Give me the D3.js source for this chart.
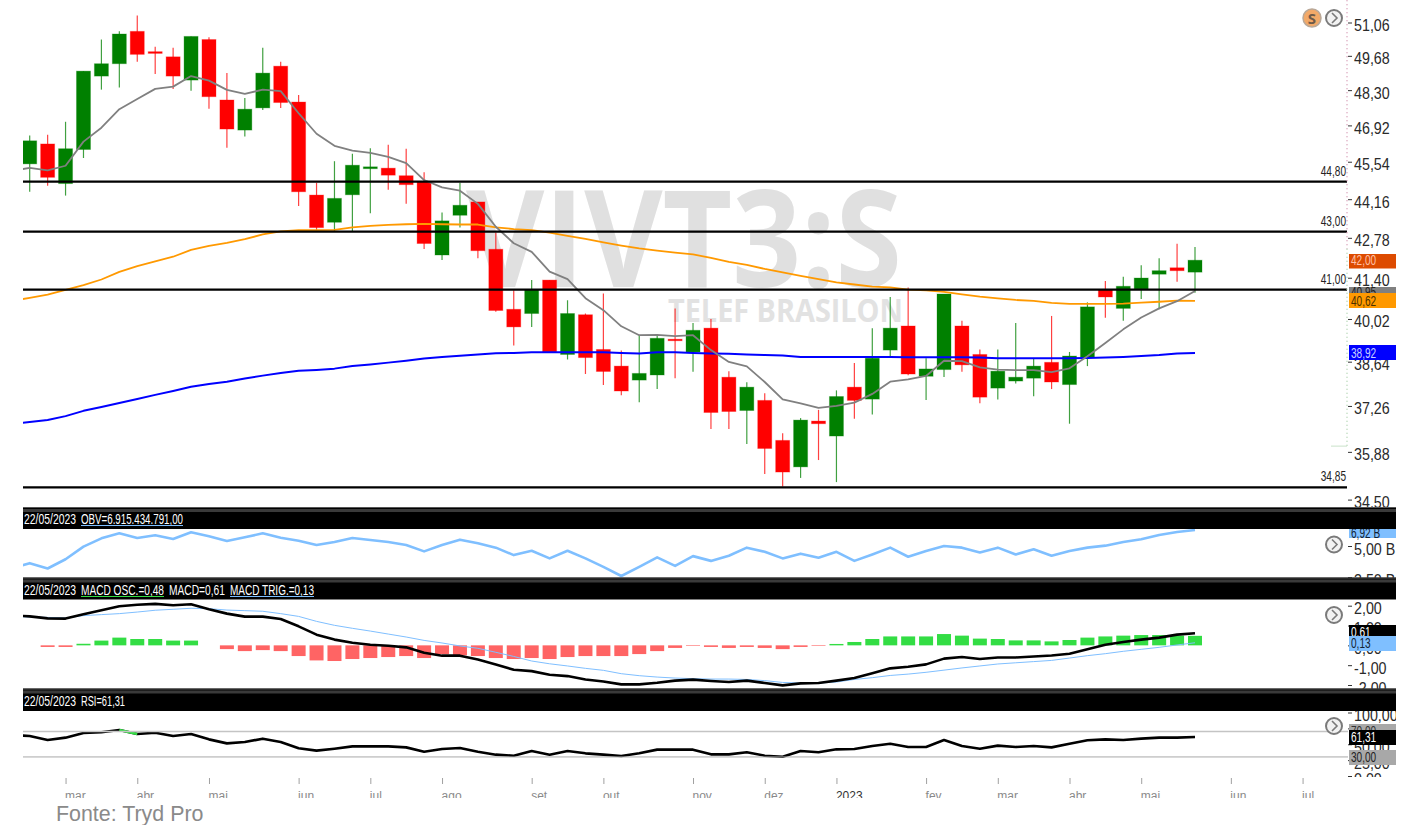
<!DOCTYPE html>
<html>
<head>
<meta charset="utf-8">
<title>VIVT3:S</title>
<script src="https://cdn.jsdelivr.net/npm/d3@7"></script>
<style>
  html, body { margin: 0; padding: 0; background: #fff; overflow: hidden; }
  .tick line { stroke: #333; }
  .price-axis text { font-family: "Liberation Sans", sans-serif; fill: #2a2a2a; }
</style>
</head>
<body>
<div id="chart"></div>
<script>
// weekly candles, one per week, left to right
const open  = [45.46,46.21,44.73,46.00,48.86,49.36,50.69,49.85,49.64,48.70,50.35,47.91,46.74,47.60,49.26,47.83,44.31,43.33,44.32,45.28,45.30,45.02,44.80,42.18,43.58,44.06,42.38,40.34,40.20,41.32,38.87,40.16,39.03,38.50,38.06,38.22,39.36,38.95,39.72,38.15,37.12,37.43,36.22,35.44,36.80,36.35,37.84,37.47,39.01,39.79,38.18,38.39,39.79,38.87,37.81,38.03,38.12,38.62,37.92,38.78,40.99,40.37,41.02,41.52,41.74,41.59];
const high  = [46.53,46.56,47.06,49.06,50.35,50.69,51.35,50.05,50.01,50.48,50.45,48.98,47.99,50.01,49.44,48.11,44.76,45.56,45.84,46.05,46.18,46.03,45.15,43.68,44.76,44.06,42.97,40.98,41.32,41.32,40.64,40.20,40.87,39.00,39.49,39.49,40.37,39.89,40.02,38.34,37.99,37.65,36.43,36.89,37.14,37.74,38.60,39.72,40.75,41.07,38.75,40.85,39.96,39.03,39.03,39.89,38.75,40.12,38.95,40.57,41.29,41.43,41.83,42.07,42.57,42.46];
const low   = [44.43,44.65,44.29,45.68,48.32,48.40,49.44,48.94,48.34,48.28,47.57,46.07,46.49,47.52,47.60,43.91,43.05,43.02,43.02,43.65,44.50,43.99,42.39,42.01,43.14,42.07,40.26,39.16,39.76,38.94,38.71,38.25,37.91,37.59,37.37,37.78,38.12,38.32,36.56,36.56,36.11,35.23,34.87,35.12,35.64,35.00,36.87,37.00,38.77,38.21,37.44,38.16,38.32,37.34,37.46,37.95,37.56,37.78,36.72,38.50,40.06,39.96,40.68,40.34,41.26,40.89];
const close = [46.33,44.96,46.03,49.06,49.36,50.58,49.74,49.78,48.86,50.48,48.04,46.78,47.55,48.98,47.81,44.43,43.14,44.19,45.41,45.35,45.04,44.69,42.58,43.38,43.94,42.33,40.30,39.76,40.99,38.95,40.20,38.77,38.33,37.72,38.27,39.39,39.33,39.65,37.06,37.09,37.84,35.98,35.29,36.83,36.72,37.55,37.43,38.75,39.72,38.25,38.41,40.85,38.54,37.53,38.34,38.15,38.50,38.00,38.82,40.42,40.75,41.11,41.39,41.64,41.64,42.00];

// moving averages, first value belongs to the week cut off on the left (index -1)
const maGray   = [45.20,45.31,45.22,45.39,46.30,46.83,47.55,47.95,48.35,48.44,48.86,48.68,48.31,48.15,48.32,48.26,47.39,46.60,46.14,45.96,45.87,45.72,45.49,44.86,44.59,44.47,43.99,43.17,42.59,42.29,41.61,41.35,40.71,40.31,39.78,39.49,39.50,39.46,39.49,39.01,38.63,38.49,38.00,37.46,37.34,37.20,37.26,37.36,37.63,38.01,38.08,38.19,38.67,38.66,38.46,38.39,38.37,38.37,38.31,38.43,38.81,39.24,39.68,40.07,40.37,40.61,40.95];
const maOrange = [40.62,40.72,40.83,40.99,41.15,41.34,41.60,41.80,41.96,42.12,42.36,42.50,42.60,42.73,42.90,43.01,43.05,43.05,43.06,43.15,43.20,43.24,43.26,43.27,43.26,43.25,43.25,43.15,43.09,43.05,42.96,42.85,42.74,42.62,42.51,42.41,42.33,42.26,42.20,42.08,41.94,41.84,41.70,41.58,41.46,41.35,41.24,41.17,41.10,41.07,41.00,40.97,40.92,40.84,40.76,40.70,40.65,40.62,40.55,40.52,40.52,40.52,40.53,40.56,40.59,40.63,40.62];
const maBlue   = [36.71,36.77,36.83,36.95,37.11,37.23,37.35,37.47,37.60,37.72,37.85,37.94,38.01,38.11,38.20,38.28,38.35,38.38,38.42,38.50,38.55,38.61,38.67,38.74,38.79,38.83,38.87,38.91,38.92,38.94,38.94,38.94,38.94,38.94,38.92,38.90,38.94,38.94,38.92,38.90,38.89,38.87,38.85,38.84,38.79,38.79,38.79,38.79,38.79,38.79,38.78,38.78,38.78,38.78,38.77,38.75,38.75,38.75,38.75,38.75,38.76,38.77,38.79,38.82,38.85,38.90,38.92];

// indicator panels, same index -1 start
const obv      = [3.91,4.17,3.91,4.36,4.97,5.92,6.52,5.96,6.28,5.84,6.64,6.16,5.60,6.04,6.52,6.00,5.64,5.12,5.48,5.96,5.72,5.48,5.12,4.74,5.12,5.76,5.32,4.92,4.56,4.77,4.40,4.77,4.40,3.99,3.55,3.99,4.45,4.04,4.51,4.28,4.53,4.92,4.72,4.40,4.63,4.43,4.72,4.28,4.59,4.92,4.48,4.76,5.00,4.92,4.69,4.92,4.59,4.84,4.53,4.76,4.92,5.04,5.48,5.80,6.32,6.68,6.92];
const macd     = [1.52,1.46,1.36,1.35,1.57,1.77,1.97,2.05,2.09,2.02,2.07,1.82,1.60,1.45,1.45,1.33,0.96,0.54,0.29,0.13,0.03,-0.02,-0.10,-0.37,-0.52,-0.52,-0.71,-0.96,-1.23,-1.30,-1.48,-1.55,-1.72,-1.82,-1.97,-1.97,-1.89,-1.78,-1.73,-1.80,-1.85,-1.78,-1.90,-2.02,-1.92,-1.90,-1.78,-1.65,-1.41,-1.16,-1.08,-0.96,-0.67,-0.59,-0.69,-0.61,-0.61,-0.56,-0.51,-0.42,-0.20,0.03,0.17,0.29,0.39,0.54,0.61];
const macdTrig = [1.46,1.43,1.41,1.38,1.50,1.55,1.60,1.68,1.77,1.82,1.87,1.85,1.78,1.75,1.72,1.60,1.46,1.21,1.01,0.86,0.72,0.57,0.42,0.25,0.12,-0.03,-0.15,-0.35,-0.56,-0.79,-0.93,-1.04,-1.16,-1.26,-1.43,-1.53,-1.60,-1.65,-1.68,-1.70,-1.70,-1.72,-1.78,-1.87,-1.90,-1.90,-1.85,-1.72,-1.63,-1.52,-1.45,-1.36,-1.25,-1.14,-1.04,-0.94,-0.88,-0.82,-0.76,-0.64,-0.52,-0.42,-0.30,-0.20,-0.10,0.02,0.13];
const macdOsc  = [0,-0.08,-0.08,0.08,0.24,0.39,0.32,0.32,0.24,0.24,0,-0.19,-0.29,-0.24,-0.29,-0.54,-0.76,-0.79,-0.69,-0.64,-0.59,-0.54,-0.64,-0.44,-0.50,-0.54,-0.64,-0.69,-0.64,-0.69,-0.59,-0.54,-0.54,-0.54,-0.44,-0.29,-0.13,-0.03,-0.08,-0.13,-0.08,-0.13,-0.19,-0.08,-0.03,0.07,0.17,0.32,0.45,0.45,0.45,0.57,0.49,0.34,0.32,0.25,0.25,0.20,0.27,0.39,0.45,0.49,0.52,0.52,0.49,0.48];
const rsi      = [64.6,63.0,56.7,60.4,67.7,68.8,72.4,66.1,68.2,63.0,66.1,57.7,51.4,53.5,58.8,53.5,43.6,39.9,43.0,46.7,46.7,46.7,45.1,38.3,42.5,44.1,38.3,33.6,32.0,39.4,33.6,39.4,35.7,33.6,31.5,35.7,41.5,41.5,41.5,34.1,34.1,37.3,32.0,30.4,39.4,37.3,42.0,42.5,47.2,50.9,45.7,45.7,56.7,47.2,43.0,47.8,45.7,47.2,45.1,50.9,56.2,57.7,56.7,58.8,60.4,60.4,61.31];

// axis labels
const priceTicks = [51.06,49.68,48.30,46.92,45.54,44.16,42.78,41.40,40.02,38.64,37.26,35.88,34.50];
const obvTicks = [5.00,3.50];
const macdTicks = [2,1,0,-1,-2];
const rsiTicks = [100,75,50,25,0];
const monthLabels = ["mar","abr","mai","jun","jul","ago","set","out","nov","dez","2023","fev","mar","abr","mai","jun","jul"];
const monthWeeks  = [2,6,10,15,19,23,28,32,37,41,45,50,54,58,62,67,71];
const levels = [44.80,43.00,41.00,34.85];

const W = 1409, H = 825;
const plotLeft = 23, plotRight = 1347, bandRight = 1396;
const sans = '"Liberation Sans", sans-serif';
const comma = v => v.toFixed(2).replace(".", ",");

// the original font is narrower than anything installed, so squeeze the text
function squeeze(selection, ratio) {
  selection.each(function() {
    const len = this.getComputedTextLength();
    d3.select(this)
      .attr("textLength", len * ratio)
      .attr("lengthAdjust", "spacingAndGlyphs");
  });
}

const svg = d3.select("#chart").append("svg")
  .attr("width", W)
  .attr("height", H)
  .style("display", "block");

svg.append("rect").attr("width", W).attr("height", H).attr("fill", "#fff");

const x = d3.scaleLinear().domain([0, 65]).range([29.7, 1195]);
const yPrice = d3.scaleLog().domain([34.5, 51.06]).range([499.6, 22.5]);
// the OBV axis on the picture is not evenly spaced, hence three stops
const yObv = d3.scaleLinear().domain([3.5, 5, 6.92]).range([577, 546, 530]);
const yMacd = d3.scaleLinear().domain([-2, 2]).range([685, 605.7]);
const yRsi = d3.scaleLinear().domain([0, 100]).range([776, 712.5]);

const defs = svg.append("defs");
defs.append("clipPath").attr("id", "plotClip").append("rect")
  .attr("x", plotLeft).attr("y", 0).attr("width", plotRight - plotLeft).attr("height", H);

// watermark
svg.append("text")
  .attr("x", 466).attr("y", 287)
  .attr("textLength", 436).attr("lengthAdjust", "spacingAndGlyphs")
  .style("font-family", '"Open Sans", sans-serif')
  .style("font-weight", 700)
  .style("font-size", "134px")
  .style("fill", "#e0e0e0")
  .text("VIVT3:S");
svg.append("text")
  .attr("x", 668).attr("y", 322)
  .attr("textLength", 235).attr("lengthAdjust", "spacingAndGlyphs")
  .style("font-family", '"Open Sans", sans-serif')
  .style("font-weight", 700)
  .style("font-size", "33px")
  .style("fill", "#e2e2e2")
  .text("TELEF BRASILON");

const plot = svg.append("g").attr("clip-path", "url(#plotClip)");

// candles
const weeks = d3.range(open.length);
const upColor = "#008000", downColor = "#ff0000";
const colorOf = i => close[i] >= open[i] ? upColor : downColor;

plot.selectAll("line.wick")
  .data(weeks)
  .enter()
  .append("line")
  .attr("class", "wick")
  .attr("x1", i => x(i))
  .attr("x2", i => x(i))
  .attr("y1", i => yPrice(high[i]))
  .attr("y2", i => yPrice(low[i]))
  .attr("stroke", colorOf)
  .attr("stroke-opacity", 0.75)
  .attr("stroke-width", 1.2);

plot.selectAll("rect.body")
  .data(weeks)
  .enter()
  .append("rect")
  .attr("class", "body")
  .attr("x", i => x(i) - 7)
  .attr("width", 14)
  .attr("y", i => yPrice(Math.max(open[i], close[i])))
  .attr("height", i => Math.max(1.5, yPrice(Math.min(open[i], close[i])) - yPrice(Math.max(open[i], close[i]))))
  .attr("fill", colorOf)
  .attr("stroke", colorOf)
  .attr("stroke-opacity", 0.3)
  .attr("stroke-width", 1);

// helper for the lines, all of them begin at index -1
function drawLine(parent, values, yScale, color, width) {
  const line = d3.line()
    .x((d, i) => x(i - 1))
    .y(d => yScale(d));
  parent.append("path")
    .attr("d", line(values))
    .attr("fill", "none")
    .attr("stroke", color)
    .attr("stroke-width", width)
    .attr("stroke-linejoin", "round");
}

drawLine(plot, maOrange, yPrice, "#ff9900", 1.8);
drawLine(plot, maBlue, yPrice, "#0000ff", 2);
drawLine(plot, maGray, yPrice, "#808080", 1.8);

// horizontal levels
plot.selectAll("line.level")
  .data(levels)
  .enter()
  .append("line")
  .attr("class", "level")
  .attr("x1", plotLeft)
  .attr("x2", plotRight)
  .attr("y1", d => yPrice(d))
  .attr("y2", d => yPrice(d))
  .attr("stroke", "#000")
  .attr("stroke-width", 2.2);

svg.selectAll("text.level-label")
  .data(levels)
  .enter()
  .append("text")
  .attr("class", "level-label")
  .attr("x", 1346)
  .attr("y", d => yPrice(d) - 6)
  .attr("text-anchor", "end")
  .style("font-family", sans)
  .style("font-size", "14px")
  .style("fill", "#222")
  .text(comma)
  .call(squeeze, 0.72);

// volume strip beside the axis, just faint dashes
const stripUp = [52, 42.4];
const stripDown = [42.4, 36.0];
svg.append("line")
  .attr("x1", 1347).attr("x2", 1347)
  .attr("y1", yPrice(stripUp[0])).attr("y2", yPrice(stripUp[1]))
  .attr("stroke", "#d9a0b8").attr("stroke-width", 1.5).attr("stroke-dasharray", "1 3");
svg.append("line")
  .attr("x1", 1347).attr("x2", 1347)
  .attr("y1", yPrice(stripDown[0])).attr("y2", yPrice(stripDown[1]))
  .attr("stroke", "#b5d6b5").attr("stroke-width", 1.5).attr("stroke-dasharray", "1 3");
svg.append("line")
  .attr("x1", 1331).attr("x2", 1347)
  .attr("y1", yPrice(36.05)).attr("y2", yPrice(36.05))
  .attr("stroke", "#c9e2c9").attr("stroke-width", 1);

// axes on the right
function rightAxis(scale, ticks, format) {
  const g = svg.append("g")
    .attr("class", "price-axis")
    .attr("transform", `translate(${plotRight + 1},0)`)
    .call(d3.axisRight(scale).tickValues(ticks).tickFormat(format).tickSize(4).tickPadding(2));
  g.select(".domain").remove();
  g.selectAll("text")
    .style("font-size", "17px")
    .attr("dy", "0.47em")
    .call(squeeze, 0.84);
  return g;
}
rightAxis(yPrice, priceTicks, comma);
rightAxis(yObv, obvTicks, d => comma(d) + " B");
rightAxis(yMacd, macdTicks, comma);
rightAxis(yRsi, rsiTicks, comma);

const lower = svg.append("g").attr("clip-path", "url(#plotClip)");

// OBV
drawLine(lower, obv, yObv, "#7fbfff", 2.6);

// MACD histogram
const yZero = yMacd(0);
lower.selectAll("rect.osc")
  .data(macdOsc)
  .enter()
  .append("rect")
  .attr("class", "osc")
  .attr("x", (d, i) => x(i) - 7)
  .attr("width", 14)
  .attr("y", d => d >= 0 ? yMacd(d) : yZero)
  .attr("height", d => Math.abs(yMacd(d) - yZero))
  .attr("fill", d => d >= 0 ? "#33dd44" : "#ff6464");
drawLine(lower, macdTrig, yMacd, "#7fbfff", 1);
drawLine(lower, macd, yMacd, "#000", 2.6);

// RSI with its two guide lines
svg.append("line")
  .attr("x1", plotLeft).attr("x2", plotRight + 1)
  .attr("y1", yRsi(70)).attr("y2", yRsi(70))
  .attr("stroke", "#c4c4c4").attr("stroke-width", 1.5);
svg.append("line")
  .attr("x1", plotLeft).attr("x2", plotRight + 1)
  .attr("y1", yRsi(30)).attr("y2", yRsi(30))
  .attr("stroke", "#a8a8a8").attr("stroke-width", 1);

drawLine(lower, rsi, yRsi, "#000", 2.6);
// the piece above 70 turns green
const rsiHigh = d3.range(rsi.length - 1).filter(i => rsi[i] > 70);
lower.selectAll("line.overbought")
  .data(rsiHigh)
  .enter()
  .append("line")
  .attr("class", "overbought")
  .attr("x1", i => x(i - 1))
  .attr("x2", i => x(i))
  .attr("y1", i => yRsi(rsi[i]))
  .attr("y2", i => yRsi(rsi[i + 1]))
  .attr("stroke", "#33dd44")
  .attr("stroke-width", 2.6);

// value boxes at the right edge
function valueBox(value, yScale, text, fill, color, top, bottom) {
  svg.append("rect")
    .attr("x", plotRight + 2).attr("y", top)
    .attr("width", bandRight - plotRight - 2).attr("height", bottom - top)
    .attr("fill", fill);
  svg.append("text")
    .attr("x", plotRight + 4)
    .attr("y", yScale(value) + 5)
    .style("font-family", sans)
    .style("font-size", "14px")
    .style("fill", color)
    .text(text)
    .call(squeeze, 0.72);
}
valueBox(40.95, d => yPrice(d) + 1, "40,95", "#808080", "#222", 287, 294);
valueBox(40.62, yPrice, "40,62", "#ff9900", "#4a3000", 293, 308);
valueBox(42.00, yPrice, "42,00", "#dd4b00", "#ffc0a8", 254, 268.5);
valueBox(38.92, yPrice, "38,92", "#0000ff", "#c8d0ff", 345, 360);
valueBox(6.92, d => yObv(d) + 3, "6,92 B", "#7fbfff", "#123", 528, 538);
valueBox(0.61, d => yMacd(d) - 1, "0,61", "#000", "#fff", 625, 637);
valueBox(0.13, yMacd, "0,13", "#7fbfff", "#123", 636, 651);
valueBox(70, d => yRsi(d) - 1, "70,00", "#a8a8a8", "#333", 724, 731);
valueBox(61.31, yRsi, "61,31", "#000", "#fff", 730, 745);
valueBox(30, yRsi, "30,00", "#a8a8a8", "#222", 750, 765);

// black header bands of the indicator panels
const bands = [
  {top: 507, bottom: 529},
  {top: 577.5, bottom: 599.5},
  {top: 688.5, bottom: 711}
];
bands.forEach(function(b) {
  svg.append("rect").attr("x", plotLeft).attr("y", b.top)
    .attr("width", bandRight - plotLeft).attr("height", b.bottom - b.top).attr("fill", "#000");
  svg.append("rect").attr("x", plotLeft).attr("y", b.top)
    .attr("width", bandRight - plotLeft).attr("height", 1).attr("fill", "#555");
  svg.append("rect").attr("x", plotLeft).attr("y", b.top + 2)
    .attr("width", bandRight - plotLeft).attr("height", 3).attr("fill", "#3a3a3a");
});

function headerText(text, left, right, baseline, underline) {
  svg.append("text")
    .attr("x", left).attr("y", baseline)
    .attr("textLength", right - left).attr("lengthAdjust", "spacingAndGlyphs")
    .style("font-family", sans)
    .style("font-size", "14px")
    .style("fill", "#fff")
    .text(text);
  if (underline) {
    svg.append("line")
      .attr("x1", left).attr("x2", right)
      .attr("y1", baseline + 1.5).attr("y2", baseline + 1.5)
      .attr("stroke", underline);
  }
}
headerText("22/05/2023", 24, 76, 524);
headerText("OBV=6.915.434.791,00", 81, 183, 524, "#7fbfff");
headerText("22/05/2023", 24, 76, 595);
headerText("MACD OSC.=0,48", 81, 164, 595, "#33dd44");
headerText("MACD=0,61", 169, 225, 595);
headerText("MACD TRIG.=0,13", 230, 314, 595, "#7fbfff");
headerText("22/05/2023", 24, 76, 706);
headerText("RSI=61,31", 81, 125, 706);

// months along the bottom
const xAxis = svg.append("g")
  .attr("transform", "translate(0,778)")
  .call(d3.axisBottom(x).tickValues(monthWeeks).tickFormat((d, i) => monthLabels[i]).tickSize(6).tickPadding(7));
xAxis.select(".domain").remove();
xAxis.selectAll(".tick line").style("stroke", "#a0a0a0");
xAxis.selectAll("text")
  .attr("text-anchor", "start")
  .attr("dx", -1)
  .style("font-family", sans)
  .style("font-size", "12px")
  .style("fill", (d, i) => monthLabels[i] === "2023" ? "#333" : "#8a8a8a");

// bottom and right edges cut the labels off
svg.append("rect").attr("x", 0).attr("y", 798).attr("width", W).attr("height", H - 798).attr("fill", "#fff");
svg.append("rect").attr("x", plotRight).attr("y", 777).attr("width", W - plotRight).attr("height", H - 777).attr("fill", "#fff");
svg.append("rect").attr("x", bandRight).attr("y", 0).attr("width", W - bandRight).attr("height", H).attr("fill", "#fff");

svg.append("text")
  .attr("x", 56).attr("y", 821)
  .style("font-family", sans)
  .style("font-size", "21.4px")
  .style("fill", "#8a8a8a")
  .text("Fonte: Tryd Pro");

// round buttons
const chevronSpots = [[1334, 18], [1334, 544.5], [1334, 615], [1334, 726]];
chevronSpots.forEach(function(p) {
  svg.append("circle")
    .attr("cx", p[0]).attr("cy", p[1]).attr("r", 8)
    .attr("fill", "#f2f2f2").attr("stroke", "#7a7a7a").attr("stroke-width", 2);
  svg.append("path")
    .attr("d", `M${p[0] - 2},${p[1] - 5}L${p[0] + 3},${p[1]}L${p[0] - 2},${p[1] + 5}`)
    .attr("fill", "none").attr("stroke", "#7a7a7a").attr("stroke-width", 1.6);
});
svg.append("circle")
  .attr("cx", 1312).attr("cy", 18).attr("r", 9)
  .attr("fill", "#f2a968").attr("stroke", "#b9a898").attr("stroke-width", 1.5);
svg.append("text")
  .attr("x", 1312).attr("y", 23.5)
  .attr("text-anchor", "middle")
  .style("font-family", '"Open Sans", sans-serif')
  .style("font-weight", 700)
  .style("font-size", "15px")
  .style("fill", "#6e5a48")
  .text("S");
</script>
</body>
</html>
